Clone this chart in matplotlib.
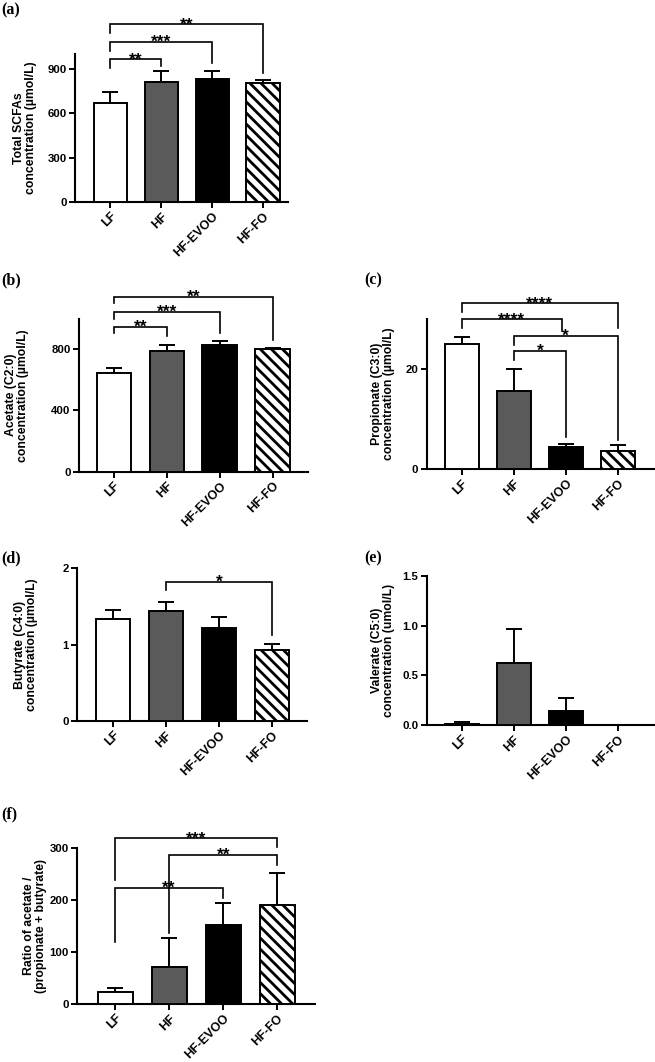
import numpy as np
import matplotlib
matplotlib.use("Agg")
import matplotlib.pyplot as plt

plt.rcParams['font.family'] = ['Liberation Sans', 'DejaVu Sans']
plt.rcParams['font.weight'] = 'bold'
plt.rcParams['hatch.color'] = 'black'
plt.rcParams['hatch.linewidth'] = 2.0

groups = ['LF', 'HF', 'HF-EVOO', 'HF-FO']

total_mean = [668, 807, 829, 800]
total_sem = [76, 76, 56, 22]

acetate_mean = [643, 791, 826, 800]
acetate_sem = [37, 37, 28, 8]

propionate_mean = [25.0, 15.6, 4.5, 3.7]
propionate_sem = [1.4, 4.5, 0.5, 1.15]

butyrate_mean = [1.34, 1.445, 1.22, 0.935]
butyrate_sem = [0.11, 0.11, 0.14, 0.075]

valerate_mean = [0.015, 0.62, 0.14, 0.0]
valerate_sem = [0.02, 0.35, 0.13, 0.0]

ratio_mean = [23.7, 70.7, 152, 190.7]
ratio_sem = [6.3, 56, 42, 62]

# significance comparisons: (left group, right group, label)
sig_a = [(0, 1, '**'), (0, 2, '***'), (0, 3, '**')]
sig_b = [(0, 1, '**'), (0, 2, '***'), (0, 3, '**')]
sig_c = [(0, 3, '****'), (0, 2, '****'), (1, 3, '*'), (1, 2, '*')]
sig_d = [(1, 3, '*')]
sig_f = [(0, 3, '***'), (1, 3, '**'), (0, 2, '**')]

bar_colors = ['white', '#5a5a5a', 'black', 'white']
bar_hatch = [None, None, None, '\\\\\\']

W, H = 655, 1062
fig = plt.figure(figsize=(W / 100, H / 100), dpi=100)


def make_ax(x0, x1, y0, y1):
    return fig.add_axes([x0 / W, 1 - y1 / H, (x1 - x0) / W, (y1 - y0) / H])


def draw_panel(ax, means, sems, ylim, yticks, yticklabels, xlim, ylabel, labx):
    x = np.arange(len(groups))
    bars = ax.bar(x, means, width=0.65, color=bar_colors, edgecolor='black',
                  linewidth=1.4, zorder=3)
    for b, h in zip(bars, bar_hatch):
        if h:
            b.set_hatch(h)
    ax.errorbar(x, means, yerr=[np.zeros(len(means)), sems], fmt='none',
                ecolor='black', elinewidth=1.4, capsize=6, capthick=1.4, zorder=2)
    ax.set_xlim(*xlim)
    ax.set_ylim(*ylim)
    ax.set_yticks(yticks)
    ax.set_yticklabels(yticklabels, fontsize=8.2, fontweight='bold')
    ax.set_xticks(x)
    ax.set_xticklabels(groups, rotation=45, ha='right', va='top',
                       rotation_mode='anchor', fontsize=9, fontweight='bold')
    for s in ['top', 'right']:
        ax.spines[s].set_visible(False)
    for s in ['left', 'bottom']:
        ax.spines[s].set_linewidth(1.5)
    ax.tick_params(axis='both', width=1.4, length=4, pad=2)
    ax.set_ylabel(ylabel, fontsize=8.8, fontweight='bold', linespacing=1.0)
    ax.yaxis.set_label_coords(labx, 0.5)


def bracket(ax, i, j, y, yl, yr, label, dj=0.0):
    xj = j + dj
    ax.plot([i, i, xj, xj], [yl, y, y, yr], color='black', lw=1.2,
            clip_on=False, zorder=4, solid_joinstyle='miter')
    ax.annotate(label, xy=((i + xj) / 2, y), xytext=(0, -3.6),
                textcoords='offset points', ha='center', va='baseline',
                fontsize=12.5, fontweight='bold', annotation_clip=False)


def panel_label(x, y, s):
    fig.text(x / W, 1 - y / H, s, fontsize=11.5, fontweight='bold',
             family=['Liberation Serif', 'DejaVu Serif'], va='top', ha='left')


# (a)
ax_a = make_ax(75, 288, 53.7, 202)
draw_panel(ax_a, total_mean, total_sem, (0, 1000), [0, 300, 600, 900],
           ['0', '300', '600', '900'], (-0.69, 3.49),
           'Total SCFAs\nconcentration (µmol/L)', -0.178)
bracket(ax_a, 0, 1, 962, 901, 917, sig_a[0][2])
bracket(ax_a, 0, 2, 1081, 1020, 935, sig_a[1][2])
bracket(ax_a, 0, 3, 1198, 1137, 868, sig_a[2][2])
panel_label(1, 2, '(a)')

# (b)
ax_b = make_ax(79, 308, 318.7, 471.7)
draw_panel(ax_b, acetate_mean, acetate_sem, (0, 1000), [0, 400, 800],
           ['0', '400', '800'], (-0.66, 3.67),
           'Acetate (C2:0)\nconcentration (µmol/L)', -0.218)
bracket(ax_b, 0, 1, 948, 905, 887, sig_b[0][2])
bracket(ax_b, 0, 2, 1046, 996, 905, sig_b[1][2])
bracket(ax_b, 0, 3, 1144, 1100, 861, sig_b[2][2])
panel_label(1, 272, '(b)')

# (c)
ax_c = make_ax(426.7, 655, 318.9, 469.3)
draw_panel(ax_c, propionate_mean, propionate_sem, (0, 30), [0, 20],
           ['0', '20'], (-0.68, 3.72),
           'Propionate (C3:0)\nconcentration (µmol/L)', -0.139)
bracket(ax_c, 0, 3, 33.1, 31.3, 28.1, sig_c[0][2])
bracket(ax_c, 0, 2, 29.9, 28.1, 27.6, sig_c[1][2], dj=-0.08)
bracket(ax_c, 1, 3, 26.6, 24.8, 5.85, sig_c[2][2])
bracket(ax_c, 1, 2, 23.65, 21.8, 6.5, sig_c[3][2])
panel_label(364, 272, '(c)')

# (d)
ax_d = make_ax(77.3, 306.7, 568.3, 721)
draw_panel(ax_d, butyrate_mean, butyrate_sem, (0, 2), [0, 1, 2],
           ['0', '1', '2'], (-0.68, 3.66),
           'Butyrate (C4:0)\nconcentration (µmol/L)', -0.171)
bracket(ax_d, 1, 3, 1.82, 1.71, 1.13, sig_d[0][2])
panel_label(1, 550, '(d)')

# (e)
ax_e = make_ax(426.7, 655, 576, 725)
draw_panel(ax_e, valerate_mean, valerate_sem, (0, 1.5), [0, 0.5, 1.0, 1.5],
           ['0.0', '0.5', '1.0', '1.5'], (-0.68, 3.72),
           'Valerate (C5:0)\nconcentration (umol/L)', -0.139)
panel_label(364, 550, '(e)')

# (f)
ax_f = make_ax(77.3, 315, 848.3, 1004)
draw_panel(ax_f, ratio_mean, ratio_sem, (0, 300), [0, 100, 200, 300],
           ['0', '100', '200', '300'], (-0.70, 3.70),
           'Ratio of acetate /\n(propionate + butyrate)', -0.127)
bracket(ax_f, 0, 3, 319, 239, 303, sig_f[0][2])
bracket(ax_f, 1, 3, 287, 136, 268, sig_f[1][2])
bracket(ax_f, 0, 2, 223, 120, 204, sig_f[2][2])
panel_label(1, 806, '(f)')

fig.savefig('out.png', dpi=100)
